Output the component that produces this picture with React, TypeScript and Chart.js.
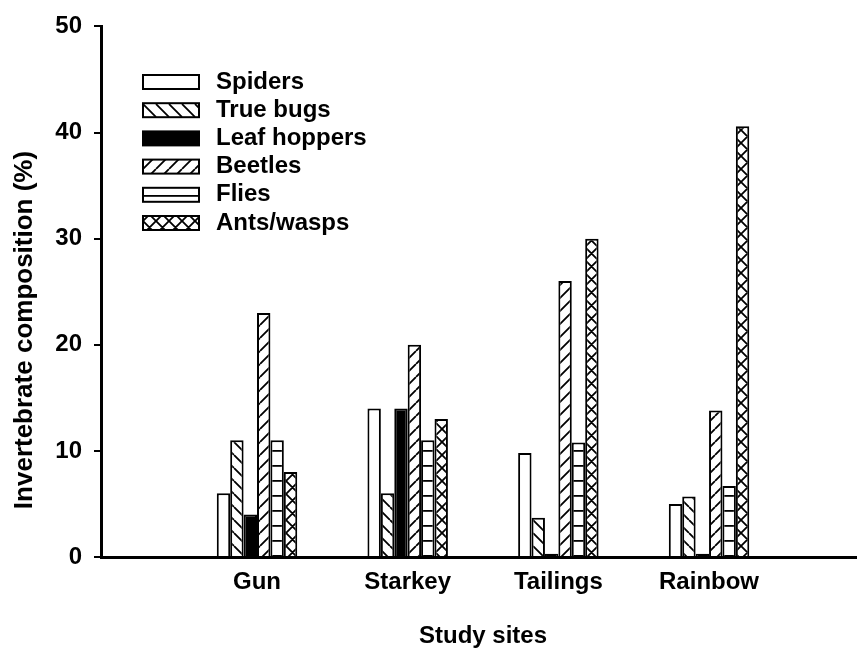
import React, { useEffect, useRef } from 'react';
import { Chart, registerables } from 'chart.js';

Chart.register(...registerables);

const sites = ['Gun', 'Starkey', 'Tailings', 'Rainbow'];
const seriesNames = ['Spiders', 'True bugs', 'Leaf hoppers', 'Beetles', 'Flies', 'Ants/wasps'];
const spiders = [6, 14, 9.8, 5.0];
const trueBugs = [11, 6, 3.7, 5.7];
const leafHoppers = [4, 14, 0.3, 0.3];
const beetles = [23, 20, 26, 13.8];
const flies = [11, 11, 10.8, 6.7];
const antsWasps = [8, 13, 30, 40.6];
const yTicks = [0, 10, 20, 30, 40, 50];
const yTitle = 'Invertebrate composition (%)';
const xTitle = 'Study sites';

const FONT = '"Liberation Sans", Arial, Helvetica, sans-serif';
const W = 857;
const H = 652;

type Kind = 'open' | 'back' | 'solid' | 'fwd' | 'horiz' | 'cross';
const kinds: Kind[] = ['open', 'back', 'solid', 'fwd', 'horiz', 'cross'];

function makeFill(kind: Kind): string | CanvasPattern {
  if (kind === 'open') return '#ffffff';
  if (kind === 'solid') return '#000000';
  const p = 13;
  const c = document.createElement('canvas');
  c.width = p;
  c.height = kind === 'horiz' ? 15 : p;
  const g = c.getContext('2d')!;
  g.fillStyle = '#fff';
  g.fillRect(0, 0, c.width, c.height);
  g.strokeStyle = '#000';
  g.lineWidth = 1.8;
  g.beginPath();
  if (kind === 'horiz') {
    g.moveTo(0, 0.9);
    g.lineTo(p, 0.9);
  }
  if (kind === 'back' || kind === 'cross') {
    for (const x0 of [-p, 0, p]) {
      g.moveTo(x0, 0);
      g.lineTo(x0 + p, p);
    }
  }
  if (kind === 'fwd' || kind === 'cross') {
    for (const x0 of [-p, 0, p]) {
      g.moveTo(x0, p);
      g.lineTo(x0 + p, 0);
    }
  }
  g.stroke();
  return g.createPattern(c, 'repeat') as CanvasPattern;
}

export default function App() {
  const ref = useRef<HTMLCanvasElement | null>(null);

  useEffect(() => {
    document.body.style.margin = '0';
    document.body.style.overflow = 'hidden';
    const canvas = ref.current;
    if (!canvas) return;
    const values = [spiders, trueBugs, leafHoppers, beetles, flies, antsWasps];
    const fills = kinds.map(makeFill);

    const textPlugin = {
      id: 'customText',
      afterDraw(chart: any) {
        const ctx = chart.ctx as CanvasRenderingContext2D;
        ctx.save();
        ctx.fillStyle = '#000';
        ctx.font = `bold 26px ${FONT}`;
        ctx.textAlign = 'center';
        ctx.textBaseline = 'middle';
        ctx.translate(25, 330);
        ctx.rotate(-Math.PI / 2);
        ctx.fillText(yTitle, 0, 0);
        ctx.restore();
        ctx.save();
        ctx.fillStyle = '#000';
        ctx.font = `bold 24px ${FONT}`;
        ctx.textAlign = 'center';
        ctx.textBaseline = 'middle';
        ctx.fillText(xTitle, 483, 636);
        ctx.restore();
        ctx.save();
        ctx.font = `bold 24px ${FONT}`;
        ctx.textAlign = 'left';
        ctx.textBaseline = 'middle';
        seriesNames.forEach((name, k) => {
          const cy = 82 + k * 28.2;
          ctx.fillStyle = fills[k] as any;
          ctx.fillRect(143, cy - 7, 56, 14);
          ctx.strokeStyle = '#000';
          ctx.lineWidth = 2;
          ctx.strokeRect(143, cy - 7, 56, 14);
          ctx.fillStyle = '#000';
          ctx.fillText(name, 216, cy);
        });
        ctx.restore();
      },
    };

    const chart = new Chart(canvas, {
      type: 'bar',
      data: {
        datasets: seriesNames.map((name, k) => ({
          label: name,
          data: values[k].map((v, i) => ({ x: i + 1, y: v })),
          backgroundColor: fills[k] as any,
          borderColor: '#000',
          borderWidth: 2,
          barPercentage: 1,
          categoryPercentage: 0.534,
        })),
      },
      options: {
        responsive: false,
        animation: false,
        layout: { padding: { top: 24, right: 0, bottom: 0, left: 0 } },
        plugins: {
          legend: { display: false },
          tooltip: { enabled: false },
          title: { display: false },
        },
        scales: {
          x: {
            type: 'linear',
            offset: false,
            min: -0.0354,
            max: 4.982,
            grid: { display: false, drawTicks: false, offset: false },
            border: { display: true, width: 3, color: '#000' },
            afterBuildTicks: (axis: any) => {
              axis.ticks = sites.map((_, i) => ({ value: i + 1 }));
            },
            afterFit: (s: any) => {
              s.height = 95;
            },
            ticks: {
              autoSkip: false,
              maxRotation: 0,
              padding: 11,
              color: '#000',
              font: { family: FONT, size: 24, weight: 'bold' },
              callback: (v: any) => sites[Number(v) - 1] ?? '',
            },
          },
          y: {
            type: 'linear',
            min: 0,
            max: 50,
            afterBuildTicks: (axis: any) => {
              axis.ticks = yTicks.map((v) => ({ value: v }));
            },
            afterFit: (s: any) => {
              s.width = 101;
            },
            grid: {
              display: true,
              drawOnChartArea: false,
              drawTicks: true,
              tickLength: 7,
              lineWidth: 2,
              color: '#000',
            },
            border: { display: true, width: 3, color: '#000' },
            ticks: {
              padding: 12,
              color: '#000',
              font: { family: FONT, size: 24, weight: 'bold' },
            },
          },
        },
      } as any,
      plugins: [textPlugin],
    });
    return () => chart.destroy();
  }, []);

  return (
    <div style={{ width: W, height: H, position: 'relative' }}>
      <canvas ref={ref} width={W} height={H} style={{ display: 'block' }} />
    </div>
  );
}
